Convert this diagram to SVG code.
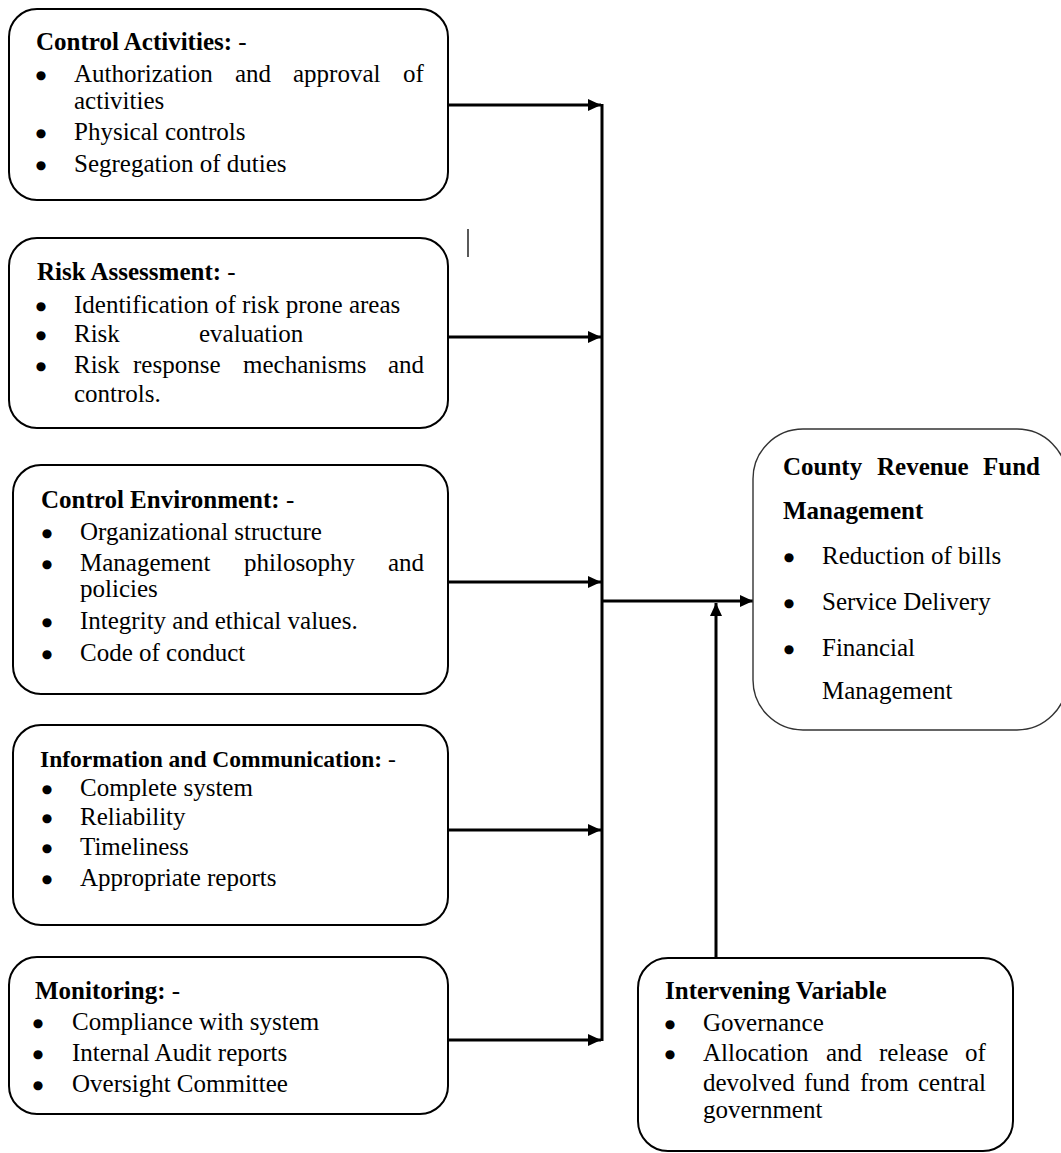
<svg xmlns="http://www.w3.org/2000/svg" width="1061" height="1153" viewBox="0 0 1061 1153">
<style>
  text { font-family: "Liberation Serif", "Times New Roman", serif; font-size: 25px; fill: #000; }
  .t { font-weight: bold; }
  .d { font-weight: normal; }
  .b { font-family: "DejaVu Sans", sans-serif; font-size: 12px; text-anchor: middle; }
  .box { fill: #fff; stroke: #000; stroke-width: 2; }
  .box2 { fill: #fff; stroke: #333; stroke-width: 1.4; }
  .con { fill: none; stroke: #000; stroke-width: 3; }
</style>
<defs>
  <marker id="ah" markerUnits="userSpaceOnUse" markerWidth="13" markerHeight="12" refX="13" refY="6" orient="auto">
    <path d="M0,0 L13,6 L0,12 z" fill="#000"/>
  </marker>
</defs>
<rect width="1061" height="1153" fill="#fff"/>

<g id="connectors">
  <path class="con" d="M448,105 H601" marker-end="url(#ah)"/>
  <path class="con" d="M448,337 H601" marker-end="url(#ah)"/>
  <path class="con" d="M448,582 H601" marker-end="url(#ah)"/>
  <path class="con" d="M448,830 H601" marker-end="url(#ah)"/>
  <path class="con" d="M448,1040 H601" marker-end="url(#ah)"/>
  <path class="con" d="M602,104 V1041"/>
  <path class="con" d="M602,601 H753" marker-end="url(#ah)"/>
  <path class="con" d="M716,958 V603" marker-end="url(#ah)"/>
</g>

<line x1="468" y1="229" x2="468" y2="257" stroke="#000" stroke-width="1.3"/>

<g id="control-activities">
  <rect class="box" x="9" y="9" width="439" height="191" rx="28"/>
  <text class="t" x="36" y="50">Control Activities:<tspan class="d"> -</tspan></text>
  <text class="b" x="41" y="79">●</text>
  <text y="82"><tspan x="74">Authorization</tspan><tspan x="235">and</tspan><tspan x="293">approval</tspan><tspan x="403">of</tspan></text>
  <text x="74" y="109">activities</text>
  <text class="b" x="41" y="137">●</text>
  <text x="74" y="140">Physical controls</text>
  <text class="b" x="41" y="169">●</text>
  <text x="74" y="172">Segregation of duties</text>
</g>

<g id="risk-assessment">
  <rect class="box" x="9" y="238" width="439" height="190" rx="28"/>
  <text class="t" x="37" y="280">Risk Assessment:<tspan class="d"> -</tspan></text>
  <text class="b" x="41" y="310">●</text>
  <text x="74" y="313">Identification of risk prone areas</text>
  <text class="b" x="41" y="339">●</text>
  <text y="342"><tspan x="74">Risk</tspan><tspan x="199">evaluation</tspan></text>
  <text class="b" x="41" y="370">●</text>
  <text y="373"><tspan x="74">Risk</tspan><tspan x="133">response</tspan><tspan x="243">mechanisms</tspan><tspan x="388">and</tspan></text>
  <text x="74" y="402">controls.</text>
</g>

<g id="control-environment">
  <rect class="box" x="13" y="465" width="435" height="229" rx="28"/>
  <text class="t" x="41" y="508">Control Environment:<tspan class="d"> -</tspan></text>
  <text class="b" x="47" y="537">●</text>
  <text x="80" y="540">Organizational structure</text>
  <text class="b" x="47" y="568">●</text>
  <text y="571"><tspan x="80">Management</tspan><tspan x="244">philosophy</tspan><tspan x="388">and</tspan></text>
  <text x="80" y="597">policies</text>
  <text class="b" x="47" y="626">●</text>
  <text x="80" y="629">Integrity and ethical values.</text>
  <text class="b" x="47" y="658">●</text>
  <text x="80" y="661">Code of conduct</text>
</g>

<g id="information-communication">
  <rect class="box" x="13" y="725" width="435" height="200" rx="28"/>
  <text class="t" x="40" y="767" style="font-size:23.5px">Information and Communication:<tspan class="d"> -</tspan></text>
  <text class="b" x="47" y="793">●</text>
  <text x="80" y="796">Complete system</text>
  <text class="b" x="47" y="822">●</text>
  <text x="80" y="825">Reliability</text>
  <text class="b" x="47" y="852">●</text>
  <text x="80" y="855">Timeliness</text>
  <text class="b" x="47" y="883">●</text>
  <text x="80" y="886">Appropriate reports</text>
</g>

<g id="monitoring">
  <rect class="box" x="9" y="957" width="439" height="157" rx="28"/>
  <text class="t" x="35" y="999">Monitoring:<tspan class="d"> -</tspan></text>
  <text class="b" x="38" y="1027">●</text>
  <text x="72" y="1030">Compliance with system</text>
  <text class="b" x="38" y="1058">●</text>
  <text x="72" y="1061">Internal Audit reports</text>
  <text class="b" x="38" y="1089">●</text>
  <text x="72" y="1092">Oversight Committee</text>
</g>

<g id="county-revenue-fund-management">
  <rect class="box2" x="753" y="429" width="314" height="301" rx="50"/>
  <text class="t" y="475"><tspan x="783">County</tspan><tspan x="877">Revenue</tspan><tspan x="983">Fund</tspan></text>
  <text class="t" x="783" y="519">Management</text>
  <text class="b" x="789" y="561">●</text>
  <text x="822" y="564">Reduction of bills</text>
  <text class="b" x="789" y="607">●</text>
  <text x="822" y="610">Service Delivery</text>
  <text class="b" x="789" y="653">●</text>
  <text x="822" y="656">Financial</text>
  <text x="822" y="699">Management</text>
</g>

<g id="intervening-variable">
  <rect class="box" x="638" y="958" width="375" height="193" rx="30"/>
  <text class="t" x="665" y="999">Intervening Variable</text>
  <text class="b" x="670" y="1028">●</text>
  <text x="703" y="1031">Governance</text>
  <text class="b" x="670" y="1058">●</text>
  <text y="1061"><tspan x="703">Allocation</tspan><tspan x="826">and</tspan><tspan x="879">release</tspan><tspan x="965">of</tspan></text>
  <text y="1091"><tspan x="703">devolved</tspan><tspan x="804">fund</tspan><tspan x="860">from</tspan><tspan x="918">central</tspan></text>
  <text x="703" y="1118">government</text>
</g>
</svg>
